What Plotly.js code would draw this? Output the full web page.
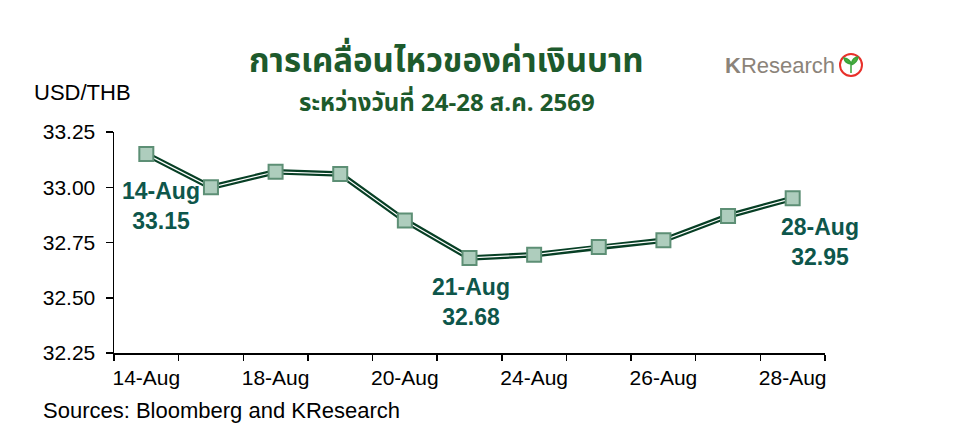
<!DOCTYPE html>
<html>
<head>
<meta charset="utf-8">
<script src="https://cdn.plot.ly/plotly-3.0.1.min.js"></script>
<style>
html,body{margin:0;padding:0;background:#fff;}
#chart{width:964px;height:441px;}
</style>
</head>
<body>
<div id="chart"></div>
<script>
const categories = ["14-Aug","15-Aug","18-Aug","19-Aug","20-Aug","21-Aug","24-Aug","25-Aug","26-Aug","27-Aug","28-Aug"];
const usdthb = [33.15, 33.00, 33.07, 33.06, 32.85, 32.68, 32.695, 32.73, 32.76, 32.87, 32.95];
const tickLabels = ["14-Aug","","18-Aug","","20-Aug","","24-Aug","","26-Aug","","28-Aug"];
const labelled = [
  {idx:0, text:"14-Aug<br>33.15", xs:15, ys:-52},
  {idx:5, text:"21-Aug<br>32.68", xs:1, ys:-44},
  {idx:10, text:"28-Aug<br>32.95", xs:27, ys:-44}
];

const M = {l:114, r:139, t:132, b:88};
const W = 964, H = 441;
const pw = W - M.l - M.r, ph = H - M.t - M.b;
const px = x => (x - M.l) / pw;
const py = y => (H - M.b - y) / ph;

const font = '"Liberation Sans", Arial, sans-serif';
const thaiFont = '"Noto Sans Thai", "Noto Sans", "Liberation Sans", Arial, sans-serif';
const labelColor = '#0e564b';

const traces = [
  {x: categories, y: usdthb, type:'scatter', mode:'lines',
   line:{color:'#073f25', width:5.5}, hoverinfo:'skip', showlegend:false},
  {x: categories, y: usdthb, type:'scatter', mode:'lines+markers',
   line:{color:'#ffffff', width:1.2},
   marker:{symbol:'square', size:14, color:'#aecdbd', line:{color:'#5d8f75', width:2}},
   showlegend:false}
];

const annotations = labelled.map(a => ({
  x: categories[a.idx], y: usdthb[a.idx], xref:'x', yref:'y',
  text: a.text, showarrow:false, xshift:a.xs, yshift:a.ys,
  font:{family:font, size:23, color:labelColor, weight:'bold'},
  align:'center'
}));

annotations.push(
  {xref:'paper', yref:'paper', x:px(446), y:py(62), text:'<b>การเคลื่อนไหวของค่าเงินบาท</b>',
   showarrow:false, font:{family:thaiFont, size:33, color:'#1d5a2c'}, xanchor:'center', yanchor:'middle'},
  {xref:'paper', yref:'paper', x:px(447), y:py(104), text:'<b>ระหว่างวันที่ 24-28 ส.ค. 2569</b>',
   showarrow:false, font:{family:thaiFont, size:24, color:'#1d5a2c'}, xanchor:'center', yanchor:'middle'},
  {xref:'paper', yref:'paper', x:px(32), y:py(92), text:'USD/THB',
   showarrow:false, font:{family:font, size:22, color:'#000'}, xanchor:'left', yanchor:'middle'},
  {xref:'paper', yref:'paper', x:px(41), y:py(410), text:'Sources: Bloomberg and KResearch',
   showarrow:false, font:{family:font, size:22, color:'#000'}, xanchor:'left', yanchor:'middle'},
  {xref:'paper', yref:'paper', x:px(723), y:py(66), text:'<b>K</b>Research',
   showarrow:false, font:{family:font, size:22, color:'#8b8379'}, xanchor:'left', yanchor:'middle'}
);

const shapes = [
  {type:'circle', xref:'paper', yref:'paper', x0:px(840), x1:px(862), y0:py(76), y1:py(54),
   line:{color:'#e8302a', width:2}, fillcolor:'rgba(0,0,0,0)'},
  {type:'path', xref:'paper', yref:'paper',
   path:`M ${px(851)} ${py(73)} L ${px(851)} ${py(64)} Q ${px(845)} ${py(63)} ${px(844)} ${py(58)} Q ${px(850)} ${py(59)} ${px(851)} ${py(64)} Q ${px(853)} ${py(57)} ${px(858)} ${py(57)} Q ${px(857)} ${py(63)} ${px(851)} ${py(65)} Z`,
   line:{color:'#3aa23a', width:1.5}, fillcolor:'#4caf3f'}
];

const layout = {
  width: W, height: H,
  margin: M,
  paper_bgcolor:'#fff', plot_bgcolor:'#fff',
  font:{family:font, size:20, color:'#000'},
  showlegend:false,
  xaxis:{
    type:'category', tickmode:'array', tickvals:categories, ticktext:tickLabels,
    tickson:'boundaries', ticks:'outside', ticklen:6, tickwidth:1.5, tickcolor:'#000',
    showline:true, linecolor:'#000', linewidth:1.5, showgrid:false, zeroline:false,
    tickangle:0, automargin:false, ticklabelstandoff:5,
    range:[-0.5, 10.5], tickfont:{family:font, size:21, color:'#000'}, fixedrange:true
  },
  yaxis:{
    range:[32.25, 33.25], dtick:0.25, tick0:32.25, tickformat:'.2f',
    ticks:'outside', ticklen:7, tickwidth:1.5, tickcolor:'#000',
    showline:true, linecolor:'#000', linewidth:1.5, showgrid:false, zeroline:false,
    automargin:false,
    tickfont:{family:font, size:21, color:'#000'}, ticklabelstandoff:6, fixedrange:true
  },
  annotations: annotations,
  shapes: shapes
};

Plotly.newPlot('chart', traces, layout, {displayModeBar:false, staticPlot:true});
</script>
</body>
</html>
